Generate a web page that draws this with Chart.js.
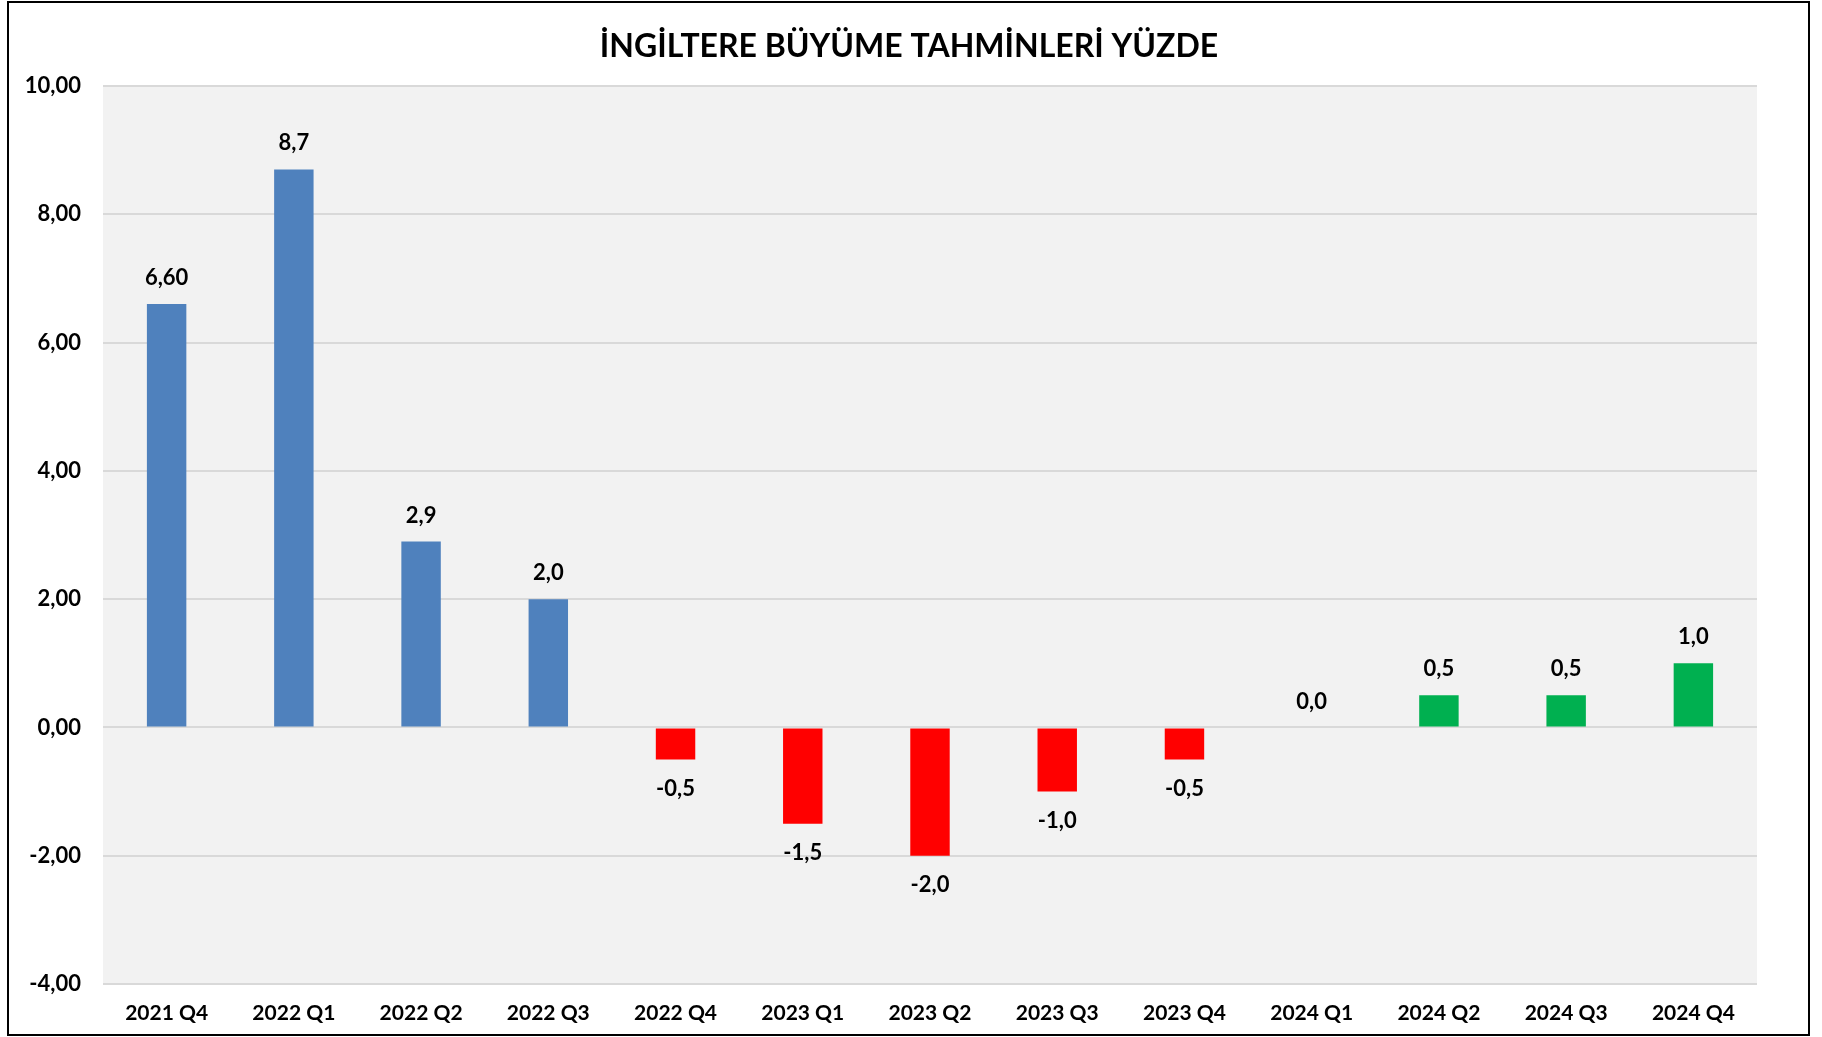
<!DOCTYPE html>
<html>
<head>
<meta charset="utf-8">
<script src="https://cdn.jsdelivr.net/npm/chart.js@4"></script>
<style>
  html, body { margin: 0; padding: 0; background: #fff; }
  #wrap { width: 1822px; height: 1037px; position: relative; }
</style>
</head>
<body>
<div id="wrap"><canvas id="growth-chart"></canvas></div>
<script>
const categories = ['2021 Q4', '2022 Q1', '2022 Q2', '2022 Q3', '2022 Q4', '2023 Q1', '2023 Q2', '2023 Q3', '2023 Q4', '2024 Q1', '2024 Q2', '2024 Q3', '2024 Q4'];
const values = [6.6, 8.7, 2.9, 2.0, -0.5, -1.5, -2.0, -1.0, -0.5, 0.0, 0.5, 0.5, 1.0];
const valueLabels = ['6,60', '8,7', '2,9', '2,0', '-0,5', '-1,5', '-2,0', '-1,0', '-0,5', '0,0', '0,5', '0,5', '1,0'];
const barColors = ['#4F81BD', '#4F81BD', '#4F81BD', '#4F81BD', '#FF0000', '#FF0000', '#FF0000', '#FF0000', '#FF0000', '#00B050', '#00B050', '#00B050', '#00B050'];
const yTicks = [-4, -2, 0, 2, 4, 6, 8, 10];
const chartTitle = 'İNGİLTERE BÜYÜME TAHMİNLERİ YÜZDE';

const FONT = "Lato, 'Open Sans', sans-serif";

const decor = {
  id: 'decor',
  beforeDraw(chart) {
    const { ctx, chartArea: a } = chart;
    ctx.save();
    ctx.fillStyle = '#F2F2F2';
    ctx.fillRect(a.left, a.top, a.right - a.left, a.bottom - a.top);
    ctx.restore();
  },
  afterDraw(chart) {
    const { ctx } = chart;
    const meta = chart.getDatasetMeta(0);
    ctx.save();
    ctx.font = 'bold 22px ' + FONT;
    ctx.fillStyle = '#000';
    ctx.textAlign = 'center';
    ctx.textBaseline = 'middle';
    meta.data.forEach((bar, i) => {
      const v = values[i];
      const y = v >= 0 ? bar.y - 26 : bar.y + 29;
      ctx.fillText(valueLabels[i], bar.x, y);
    });
    // title, centred like the original (a bit left of the plot centre)
    ctx.font = 'bold 32px ' + FONT;
    ctx.fillText(chartTitle, 909, 47);
    // outer frame
    ctx.strokeStyle = '#000';
    ctx.lineWidth = 2;
    ctx.strokeRect(8, 2, 1801, 1033);
    ctx.restore();
  }
};

const chart = new Chart(document.getElementById('growth-chart').getContext('2d'), {
  type: 'bar',
  data: {
    labels: categories,
    datasets: [
      {
        data: values,
        backgroundColor: barColors,
        borderWidth: 0,
        barPercentage: 0.31,
        categoryPercentage: 1,
      }
    ]
  },
  options: {
    responsive: true,
    maintainAspectRatio: false,
    animation: false,
    layout: {
      padding: { left: 0, right: 65, top: 86, bottom: 0 }
    },
    plugins: {
      legend: { display: false },
      tooltip: { enabled: false },
      title: { display: false }
    },
    scales: {
      y: {
        min: -4,
        max: 10,
        afterBuildTicks: (scale) => { scale.ticks = yTicks.map(v => ({ value: v })); },
        afterFit: (scale) => { scale.width = 103; },
        ticks: {
          color: '#000',
          padding: 22,
          font: { family: FONT, size: 22, weight: 'bold' },
          callback: (v) => v.toFixed(2).replace('.', ',')
        },
        grid: { color: '#D9D9D9', lineWidth: 2, drawTicks: false },
        border: { display: false }
      },
      x: {
        afterFit: (scale) => { scale.height = 53; },
        ticks: {
          color: '#000',
          padding: 17,
          font: { family: FONT, size: 21, weight: 'bold' }
        },
        grid: { display: false, drawTicks: false },
        border: { display: false }
      }
    }
  },
  plugins: [decor]
});
</script>
</body>
</html>
